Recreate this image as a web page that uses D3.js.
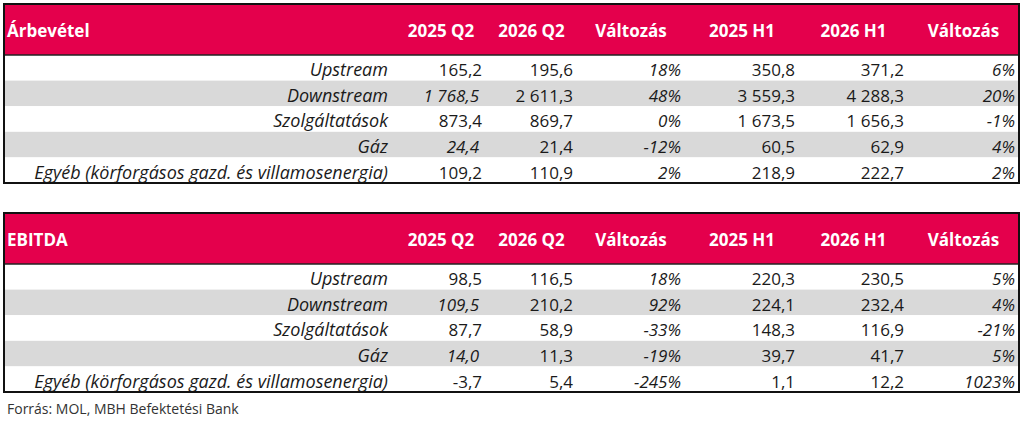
<!DOCTYPE html>
<html>
<head>
<meta charset="utf-8">
<script src="https://cdn.jsdelivr.net/npm/d3@7"></script>
<style>
  body { margin: 0; background: #fff; }
  svg { display: block; font-family: "Open Sans", Lato, sans-serif; }
</style>
</head>
<body>
<svg id="svg" width="1024" height="422"></svg>
<script>
// column headers and row labels
var columns = ["2025 Q2", "2026 Q2", "Változás", "2025 H1", "2026 H1", "Változás"];
var segments = ["Upstream", "Downstream", "Szolgáltatások", "Gáz", "Egyéb (körforgásos gazd. és villamosenergia)"];

// Árbevétel (revenue)
var revQ2_2025 = [165.2, 1768.5, 873.4, 24.4, 109.2];
var revQ2_2026 = [195.6, 2611.3, 869.7, 21.4, 110.9];
var revQChange = [18, 48, 0, -12, 2];
var revH1_2025 = [350.8, 3559.3, 1673.5, 60.5, 218.9];
var revH1_2026 = [371.2, 4288.3, 1656.3, 62.9, 222.7];
var revHChange = [6, 20, -1, 4, 2];

// EBITDA
var ebQ2_2025 = [98.5, 109.5, 87.7, 14.0, -3.7];
var ebQ2_2026 = [116.5, 210.2, 58.9, 11.3, 5.4];
var ebQChange = [18, 92, -33, -19, -245];
var ebH1_2025 = [220.3, 224.1, 148.3, 39.7, 1.1];
var ebH1_2026 = [230.5, 232.4, 116.9, 41.7, 12.2];
var ebHChange = [5, 4, -21, 5, 1023];

// cells of the 2025 Q2 column printed in italics
var italicQ2 = ["Downstream", "Gáz"];

var source = "Forrás: MOL, MBH Befektetési Bank";

var hu = d3.formatLocale({decimal: ",", thousands: " ", grouping: [3], currency: ["", ""], minus: "-"});
var fmtNum = hu.format(",.1f");
var fmtPct = function(v){ return hu.format("d")(v) + "%"; };

var svg = d3.select("#svg");

// column edges: label column, then six data columns
var edges = [4, 396, 486, 577, 685, 799, 908, 1019];
function colRight(i){ return edges[i + 2]; }
function colCenter(i){ return (edges[i + 1] + edges[i + 2]) / 2; }

var labelSize = 18, numSize = 17, headSize = 17;

function drawTable(title, top, series){
  var headH = 51, rowH = 25.6;
  var g = svg.append("g").attr("transform", "translate(0," + top + ")");

  var y = d3.scaleBand().domain(segments).range([headH, headH + rowH * segments.length]);
  var base = function(s){ return y(s) + y.bandwidth() - 4.5; };

  g.append("rect")
    .attr("x", edges[0]).attr("y", 0)
    .attr("width", edges[7] - edges[0]).attr("height", headH)
    .attr("fill", "#E4004C");

  g.selectAll(".band").data(segments).enter()
    .append("rect")
    .attr("x", edges[0]).attr("y", function(d){ return y(d); })
    .attr("width", edges[7] - edges[0]).attr("height", y.bandwidth())
    .attr("fill", function(d, i){ return i % 2 ? "#D9D9D9" : "#FFFFFF"; });

  g.append("text")
    .attr("x", edges[0] + 3).attr("y", 33)
    .attr("fill", "#fff").attr("font-weight", "bold").attr("font-size", headSize)
    .text(title);

  g.selectAll(".colhead").data(columns).enter()
    .append("text")
    .attr("x", function(d, i){ return colCenter(i); }).attr("y", 33)
    .attr("text-anchor", "middle")
    .attr("fill", "#fff").attr("font-weight", "bold").attr("font-size", headSize)
    .text(function(d){ return d; });

  g.selectAll(".rowlabel").data(segments).enter()
    .append("text")
    .attr("x", edges[1] - 8).attr("y", base)
    .attr("text-anchor", "end").attr("font-style", "italic").attr("font-size", labelSize)
    .attr("fill", "#1a1a1a")
    .text(function(d){ return d; });

  series.forEach(function(vals, c){
    var isPct = c === 2 || c === 5;
    g.selectAll(".c" + c).data(vals).enter()
      .append("text")
      .attr("x", function(d, i){
        var it = c === 0 && italicQ2.indexOf(segments[i]) >= 0;
        return colRight(c) - 4 - (it ? 3 : 0);
      })
      .attr("y", function(d, i){ return base(segments[i]); })
      .attr("text-anchor", "end").attr("font-size", numSize)
      .attr("font-style", function(d, i){
        return isPct || (c === 0 && italicQ2.indexOf(segments[i]) >= 0) ? "italic" : "normal";
      })
      .attr("fill", "#1a1a1a")
      .text(function(d){ return isPct ? fmtPct(d) : fmtNum(d); });
  });

  var bottom = y.range()[1];
  g.append("line")
    .attr("x1", edges[0]).attr("x2", edges[7])
    .attr("y1", headH).attr("y2", headH)
    .attr("stroke", "#222").attr("stroke-width", 1.5);
  g.append("rect")
    .attr("x", edges[0]).attr("y", 0)
    .attr("width", edges[7] - edges[0]).attr("height", bottom)
    .attr("fill", "none").attr("stroke", "#111").attr("stroke-width", 2);
}

drawTable("Árbevétel", 4, [revQ2_2025, revQ2_2026, revQChange, revH1_2025, revH1_2026, revHChange]);
drawTable("EBITDA", 213, [ebQ2_2025, ebQ2_2026, ebQChange, ebH1_2025, ebH1_2026, ebHChange]);

svg.append("text")
  .attr("x", 7).attr("y", 414)
  .attr("font-size", 14).attr("fill", "#333")
  .text(source);
</script>
</body>
</html>
